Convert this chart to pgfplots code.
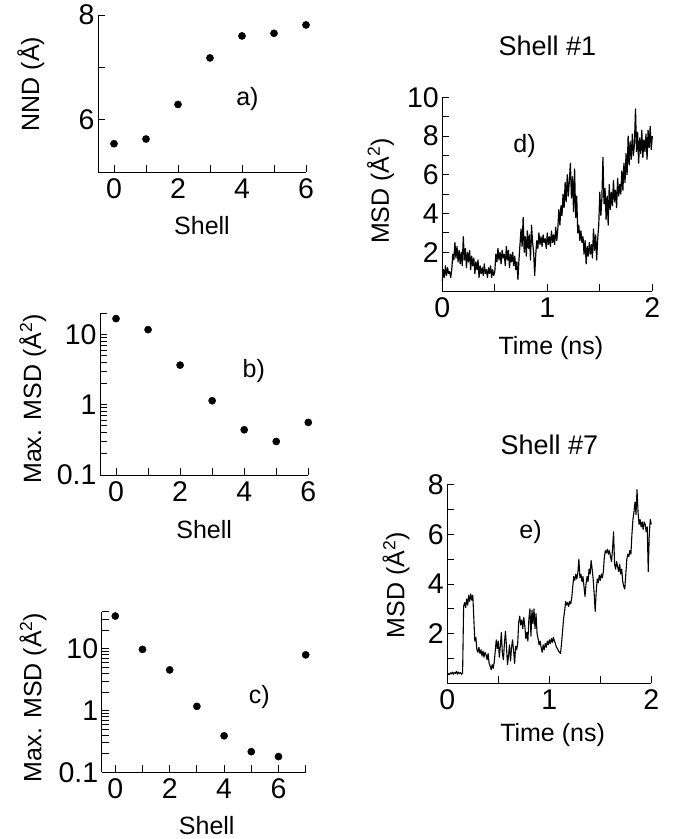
\documentclass[border=0pt]{standalone}
\usepackage{fontspec}
\setmainfont{Liberation Sans}
\usepackage{pgfplots}
\pgfplotsset{compat=1.18}
\usepackage{pgfplotstable}
\newcommand\ticksize{\fontsize{28.5}{30}\selectfont}
\newcommand\labsize{\fontsize{25}{28}\selectfont}
\newcommand\titsize{\fontsize{27}{30}\selectfont}

\pgfplotstableread{
t y
0.00 0.5
0.01 1.1
0.02 0.7
0.03 1.3
0.04 0.8
0.05 1.2
0.06 0.9
0.07 1.0
0.08 0.7
0.09 1.1
0.10 1.9
0.11 1.6
0.12 2.5
0.13 1.7
0.14 2.3
0.15 1.5
0.16 2.1
0.17 1.4
0.18 2.0
0.19 1.3
0.20 2.8
0.21 1.6
0.22 2.2
0.23 1.2
0.24 2.0
0.25 1.5
0.26 2.1
0.27 1.1
0.28 1.8
0.29 1.3
0.30 1.7
0.31 0.9
0.32 1.5
0.33 1.1
0.34 1.6
0.35 0.7
0.36 1.3
0.37 0.9
0.38 1.2
0.39 0.8
0.40 1.4
0.41 0.9
0.42 1.1
0.43 0.7
0.44 1.2
0.45 0.9
0.46 1.3
0.47 0.7
0.48 1.1
0.49 0.8
0.50 1.0
0.51 1.9
0.52 1.5
0.53 2.2
0.54 1.6
0.55 2.0
0.56 1.4
0.57 2.1
0.58 1.7
0.59 1.9
0.60 1.3
0.61 2.3
0.62 1.6
0.63 2.1
0.64 1.2
0.65 1.9
0.66 1.5
0.67 2.0
0.68 1.3
0.69 1.8
0.70 1.1
0.71 1.5
0.72 0.6
0.73 1.6
0.74 2.4
0.75 3.2
0.76 2.3
0.77 3.8
0.78 2.0
0.79 2.8
0.80 1.8
0.81 3.1
0.82 2.2
0.83 2.9
0.84 1.6
0.85 3.4
0.86 2.5
0.87 2.0
0.88 0.8
0.89 1.9
0.90 2.6
0.91 2.2
0.92 3.0
0.93 2.4
0.94 2.8
0.95 2.3
0.96 2.9
0.97 2.5
0.98 2.7
0.99 2.2
1.00 3.0
1.01 2.4
1.02 2.8
1.03 2.3
1.04 3.1
1.05 2.5
1.06 2.9
1.07 2.4
1.08 3.3
1.09 2.6
1.10 3.2
1.11 4.2
1.12 3.4
1.13 4.4
1.14 3.9
1.15 5.0
1.16 4.3
1.17 5.6
1.18 4.6
1.19 6.0
1.20 4.9
1.21 5.7
1.22 6.6
1.23 4.8
1.24 5.9
1.25 4.1
1.26 6.3
1.27 3.8
1.28 4.9
1.29 3.0
1.30 3.4
1.31 2.6
1.32 3.1
1.33 2.5
1.34 2.8
1.35 1.9
1.36 2.6
1.37 1.4
1.38 2.3
1.39 1.8
1.40 2.5
1.41 1.9
1.42 2.4
1.43 1.7
1.44 3.2
1.45 2.1
1.46 2.9
1.47 1.6
1.48 2.7
1.49 3.4
1.50 5.1
1.51 3.9
1.52 4.8
1.53 6.9
1.54 4.5
1.55 5.3
1.56 3.7
1.57 4.9
1.58 3.4
1.59 5.5
1.60 4.2
1.61 5.1
1.62 4.4
1.63 5.7
1.64 4.6
1.65 5.2
1.66 4.3
1.67 5.8
1.68 4.9
1.69 5.5
1.70 5.0
1.71 6.2
1.72 5.2
1.73 6.6
1.74 5.6
1.75 7.1
1.76 6.0
1.77 8.0
1.78 6.5
1.79 7.7
1.80 6.8
1.81 8.1
1.82 7.0
1.83 7.6
1.84 9.4
1.85 7.2
1.86 8.2
1.87 6.6
1.88 7.9
1.89 7.1
1.90 8.3
1.91 6.9
1.92 7.8
1.93 7.2
1.94 8.1
1.95 6.8
1.96 8.3
1.97 7.4
1.98 8.5
1.99 7.3
2.00 8.0
}\shellone

\pgfplotstableread{
t y
0.00 0.30
0.01 0.40
0.02 0.35
0.03 0.42
0.04 0.38
0.05 0.45
0.06 0.36
0.07 0.44
0.08 0.40
0.09 0.48
0.10 0.37
0.11 0.45
0.12 0.40
0.13 0.43
0.14 0.36
0.15 0.42
0.16 3.10
0.17 3.25
0.18 3.05
0.19 3.40
0.20 3.15
0.21 3.55
0.22 3.30
0.23 3.60
0.24 3.35
0.25 3.55
0.26 2.60
0.27 1.70
0.28 1.85
0.29 1.35
0.30 1.25
0.31 1.45
0.32 1.20
0.33 1.35
0.34 1.10
0.35 1.30
0.36 1.05
0.37 1.25
0.38 1.15
0.39 0.95
0.40 1.20
0.41 0.80
0.42 0.70
0.43 0.55
0.44 0.75
0.45 0.60
0.46 0.85
0.47 1.30
0.48 1.75
0.49 1.40
0.50 1.70
0.51 1.05
0.52 1.50
0.53 2.05
0.54 1.20
0.55 0.95
0.56 1.60
0.57 2.10
0.58 1.50
0.59 0.75
0.60 1.10
0.61 1.55
0.62 0.90
0.63 1.45
0.64 1.75
0.65 1.30
0.66 0.80
0.67 1.50
0.68 1.35
0.69 1.60
0.70 2.45
0.71 2.70
0.72 2.35
0.73 2.55
0.74 2.20
0.75 2.65
0.76 2.30
0.77 1.80
0.78 2.05
0.79 1.70
0.80 2.60
0.81 3.00
0.82 1.90
0.83 2.95
0.84 2.40
0.85 3.00
0.86 2.20
0.87 2.80
0.88 2.00
0.89 1.80
0.90 1.55
0.91 1.70
0.92 1.45
0.93 1.25
0.94 1.55
0.95 1.35
0.96 1.60
0.97 1.45
0.98 1.70
0.99 1.55
1.00 1.75
1.01 1.60
1.02 1.80
1.03 1.65
1.04 1.85
1.05 1.70
1.06 1.60
1.07 1.45
1.08 1.40
1.09 1.30
1.10 1.25
1.11 1.20
1.12 1.60
1.13 2.10
1.14 2.60
1.15 2.90
1.16 3.30
1.17 3.15
1.18 3.25
1.19 3.10
1.20 3.30
1.21 3.20
1.22 3.45
1.23 3.90
1.24 4.30
1.25 4.15
1.26 4.40
1.27 4.20
1.28 4.45
1.29 5.00
1.30 4.25
1.31 4.40
1.32 4.10
1.33 4.30
1.34 3.90
1.35 3.50
1.36 4.00
1.37 4.30
1.38 4.10
1.39 4.60
1.40 4.40
1.41 4.95
1.42 4.60
1.43 4.20
1.44 3.60
1.45 2.90
1.46 3.70
1.47 4.20
1.48 4.05
1.49 4.35
1.50 4.15
1.51 4.40
1.52 4.25
1.53 4.50
1.54 5.10
1.55 5.35
1.56 5.25
1.57 5.40
1.58 5.20
1.59 5.35
1.60 5.10
1.61 4.90
1.62 5.40
1.63 6.10
1.64 4.80
1.65 4.60
1.66 4.90
1.67 4.70
1.68 4.50
1.69 4.80
1.70 4.40
1.71 4.60
1.72 4.10
1.73 3.90
1.74 3.80
1.75 4.40
1.76 5.00
1.77 5.20
1.78 5.10
1.79 5.35
1.80 5.20
1.81 6.00
1.82 6.60
1.83 6.90
1.84 7.30
1.85 6.80
1.86 7.80
1.87 6.90
1.88 6.40
1.89 6.60
1.90 6.30
1.91 6.50
1.92 6.20
1.93 6.50
1.94 6.40
1.95 6.10
1.96 6.30
1.97 4.50
1.98 6.00
1.99 6.60
2.00 6.40
}\shellseven

\pgfplotsset{
  panel/.style={
    scale only axis,
    axis lines=left,
    axis line style={-, line width=0.9pt},
    every tick/.style={black, line width=0.9pt},
    tick align=inside,
    major tick length=7pt,
    minor tick length=7pt,
    tick label style={font=\ticksize},
    xticklabel style={yshift=-3pt},
    label style={font=\labsize},
    /pgf/number format/assume math mode=true,
    clip=false,
  },
  dots/.style={only marks, mark=*, mark size=3.6pt, black},
}

\begin{document}
\begin{tikzpicture}
\useasboundingbox (0pt,0pt) rectangle (682pt,839pt);

% a)
\begin{axis}[panel, at={(98pt,667pt)}, anchor=south west,
  width=208pt, height=157pt,
  xmin=-0.5, xmax=6, ymin=5, ymax=8,
  xtick={0,2,4,6}, minor xtick={1,3,5},
  ytick={6,8}, minor ytick={7},
  xlabel={Shell}, ylabel={NND (Å)},
  xlabel style={at={(axis description cs:0.5,-0.401)}, anchor=base},
  ylabel style={at={(axis description cs:-0.323,0.56)}, anchor=center},
]
\addplot[dots] coordinates {(0,5.54) (1,5.63) (2,6.29) (3,7.18) (4,7.60) (5,7.65) (6,7.81)};
\node[font=\labsize] at (axis cs:4.17,6.40) {a)};
\end{axis}

% b)
\begin{axis}[panel, at={(100pt,364pt)}, anchor=south west,
  width=208.3pt, height=161.7pt,
  ymode=log,
  xmin=-0.5, xmax=6, ymin=0.1, ymax=20,
  xtick={0,2,4,6}, minor xtick={1,3,5},
  ytick={0.1,1,10}, yticklabels={0.1,1,10},
  minor ytick={0.2,0.3,0.4,0.5,0.6,0.7,0.8,0.9,2,3,4,5,6,7,8,9,20},
  xlabel={Shell}, ylabel={Max. MSD (Å\textsuperscript{2})},
  xlabel style={at={(axis description cs:0.5,-0.39)}, anchor=base},
  ylabel style={at={(axis description cs:-0.322,0.47)}, anchor=center},
]
\addplot[dots] coordinates {(0,16.8) (1,11.7) (2,3.66) (3,1.14) (4,0.44) (5,0.30) (6,0.56)};
\node[font=\labsize] at (axis cs:4.30,2.98) {b)};
\end{axis}

% c)
\begin{axis}[panel, at={(101.7pt,66.7pt)}, anchor=south west,
  width=204pt, height=160.6pt,
  ymode=log,
  xmin=-0.5, xmax=7, ymin=0.1, ymax=40,
  xtick={0,2,4,6}, minor xtick={1,3,5,7},
  ytick={0.1,1,10}, yticklabels={0.1,1,10},
  minor ytick={0.2,0.3,0.4,0.5,0.6,0.7,0.8,0.9,2,3,4,5,6,7,8,9,20,30,40},
  xlabel={Shell}, ylabel={Max. MSD (Å\textsuperscript{2})},
  xlabel style={at={(axis description cs:0.515,-0.39)}, anchor=base},
  ylabel style={at={(axis description cs:-0.337,0.466)}, anchor=center},
]
\addplot[dots] coordinates {(0,34) (1,9.8) (2,4.56) (3,1.17) (4,0.39) (5,0.216) (6,0.18) (7,8.0)};
\node[font=\labsize] at (axis cs:5.29,1.64) {c)};
\end{axis}

% d)
\begin{axis}[panel, at={(442.3pt,548pt)}, anchor=south west,
  width=210pt, height=193.7pt,
  xmin=0, xmax=2, ymin=0, ymax=10,
  xtick={0,1,2}, minor xtick={0.5,1.5},
  ytick={2,4,6,8,10}, minor ytick={1,3,5,7,9},
  xlabel={Time (ns)}, ylabel={MSD (Å\textsuperscript{2})},
  title={Shell \#1},
  title style={at={(axis description cs:0.5,1.186)}, anchor=base, font=\titsize},
  xlabel style={at={(axis description cs:0.517,-0.330)}, anchor=base},
  ylabel style={at={(axis description cs:-0.294,0.517)}, anchor=center},
]
\addplot[black, line width=1.2pt, line join=round] table[x=t, y=y] {\shellone};
\node[font=\labsize] at (axis cs:0.783,7.50) {d)};
\end{axis}

% e)
\begin{axis}[panel, at={(447.3pt,155.7pt)}, anchor=south west,
  width=204pt, height=198.6pt,
  xmin=0, xmax=2, ymin=0, ymax=8,
  xtick={0,1,2}, minor xtick={0.5,1.5},
  ytick={2,4,6,8}, minor ytick={1,3,5,7},
  xlabel={Time (ns)}, ylabel={MSD (Å\textsuperscript{2})},
  title={Shell \#7},
  title style={at={(axis description cs:0.5,1.121)}, anchor=base, font=\titsize},
  xlabel style={at={(axis description cs:0.516,-0.294)}, anchor=base},
  ylabel style={at={(axis description cs:-0.251,0.495)}, anchor=center},
]
\addplot[black, line width=1.1pt, line join=round] table[x=t, y=y] {\shellseven};
\node[font=\labsize] at (axis cs:0.816,6.09) {e)};
\end{axis}
\end{tikzpicture}
\end{document}
